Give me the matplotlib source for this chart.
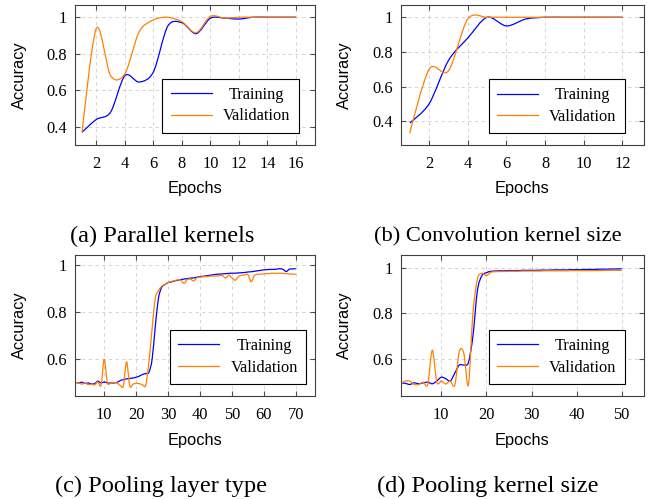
import numpy as np
import matplotlib
matplotlib.use("Agg")
import matplotlib.pyplot as plt
from matplotlib.path import Path
from matplotlib.patches import PathPatch

# (a) parallel kernels
epochs_a = list(range(1, 17))
train_a = [0.37, 0.44, 0.48, 0.68, 0.645, 0.70, 0.95, 0.97, 0.91, 0.995, 0.995, 0.99,
           1.0, 1.0, 1.0, 1.0]
val_a = [0.37, 0.94, 0.68, 0.69, 0.92, 0.985, 1.0, 0.975, 0.915, 1.005, 0.995, 1.0,
         1.0, 1.0, 1.0, 1.0]

# (b) convolution kernel size
epochs_b = list(range(1, 13))
train_b = [0.39, 0.50, 0.75, 0.88, 1.0, 0.95, 0.99, 1.0, 1.0, 1.0, 1.0, 1.0]
val_b = [0.33, 0.70, 0.69, 0.99, 1.0, 1.0, 1.0, 1.0, 1.0, 1.0, 1.0, 1.0]

# (c) pooling layer type
epochs_c = list(range(1, 71))
train_c = [0.502, 0.500, 0.503, 0.498, 0.500, 0.496, 0.497, 0.508, 0.500, 0.504,
           0.500, 0.500, 0.500, 0.502, 0.510, 0.514, 0.517, 0.519, 0.521, 0.524,
           0.529, 0.536, 0.540, 0.545, 0.600, 0.740, 0.860, 0.905, 0.917, 0.925,
           0.928, 0.932, 0.935, 0.938, 0.940, 0.942, 0.944, 0.945, 0.948, 0.950,
           0.952, 0.954, 0.956, 0.958, 0.960, 0.961, 0.962, 0.963, 0.964, 0.965,
           0.965, 0.966, 0.967, 0.968, 0.970, 0.971, 0.973, 0.975, 0.977, 0.979,
           0.980, 0.981, 0.981, 0.982, 0.984, 0.981, 0.972, 0.982, 0.983, 0.984]
val_c = [0.503, 0.500, 0.495, 0.500, 0.493, 0.495, 0.492, 0.505, 0.490, 0.600,
         0.500, 0.500, 0.502, 0.500, 0.490, 0.487, 0.590, 0.487, 0.495, 0.498,
         0.497, 0.492, 0.490, 0.590, 0.730, 0.860, 0.890, 0.910, 0.918, 0.925,
         0.930, 0.933, 0.937, 0.935, 0.922, 0.938, 0.940, 0.932, 0.945, 0.948,
         0.950, 0.951, 0.952, 0.953, 0.953, 0.954, 0.955, 0.944, 0.956, 0.945,
         0.935, 0.950, 0.956, 0.958, 0.959, 0.928, 0.955, 0.960, 0.961, 0.962,
         0.963, 0.964, 0.965, 0.964, 0.965, 0.964, 0.963, 0.962, 0.961, 0.960]

# (d) pooling kernel size
epochs_d = list(range(1, 51))
train_d = [0.497, 0.495, 0.490, 0.497, 0.493, 0.497, 0.500, 0.493, 0.505, 0.522,
           0.515, 0.505, 0.540, 0.575, 0.575, 0.585, 0.700, 0.900, 0.965, 0.978,
           0.984, 0.985, 0.986, 0.986, 0.987, 0.987, 0.987, 0.988, 0.988, 0.988,
           0.988, 0.989, 0.989, 0.989, 0.990, 0.990, 0.990, 0.990, 0.991, 0.991,
           0.991, 0.992, 0.992, 0.992, 0.993, 0.993, 0.993, 0.994, 0.994, 0.995]
val_d = [0.495, 0.505, 0.505, 0.490, 0.490, 0.500, 0.490, 0.640, 0.500, 0.505,
         0.492, 0.505, 0.487, 0.635, 0.625, 0.487, 0.800, 0.950, 0.975, 0.965,
         0.980, 0.982, 0.983, 0.983, 0.984, 0.984, 0.984, 0.985, 0.985, 0.985,
         0.985, 0.985, 0.986, 0.986, 0.986, 0.986, 0.986, 0.986, 0.987, 0.987,
         0.987, 0.987, 0.987, 0.987, 0.987, 0.988, 0.988, 0.988, 0.988, 0.988]

captions = ["(a) Parallel kernels", "(b) Convolution kernel size",
            "(c) Pooling layer type", "(d) Pooling kernel size"]

BLUE = (0, 0, 1)
ORANGE = (1, 0.5, 0)


def smooth_path(x, y, tension=0.55):
    """ Bezier path through the points, like the 'smooth' option of tikz """
    pts = np.column_stack([x, y]).astype(float)
    k = 0.2775 * tension
    n = len(pts)
    verts = [pts[0]]
    codes = [Path.MOVETO]
    for i in range(n - 1):
        p0, p1 = pts[i], pts[i + 1]
        c1 = p0 if i == 0 else p0 + k * (pts[i + 1] - pts[i - 1])
        c2 = p1 if i == n - 2 else p1 - k * (pts[i + 2] - pts[i])
        verts += [c1, c2, p1]
        codes += [Path.CURVE4] * 3
    return Path(verts, codes)


def draw_panel(ax, epochs, train, val, xlim, ylim, xticks, yticks, ytl, leg_anchor):
    """ One accuracy panel with the training and validation curve """
    for y, color, label in [(train, BLUE, "Training"), (val, ORANGE, "Validation")]:
        ax.add_patch(PathPatch(smooth_path(epochs, y), facecolor="none",
                               edgecolor=color, lw=0.9, zorder=2))
        # proxy for the legend
        ax.plot([], [], color=color, lw=0.9, label=label)

    ax.set_xlim(*xlim)
    ax.set_ylim(*ylim)
    ax.set_xticks(xticks)
    ax.set_xticklabels([str(t) for t in xticks])
    ax.set_yticks(yticks)
    ax.set_yticklabels(ytl)

    ax.set_axisbelow(True)
    ax.grid(True, color="#cccccc", linestyle=(0, (4, 4)), lw=0.6)
    ax.tick_params(direction="in", length=3.6, width=0.8, color="#4d4d4d",
                   top=True, right=True, labelsize=11.8)
    ax.tick_params(axis="x", pad=8.0)
    ax.tick_params(axis="y", pad=5.3)
    for sp in ax.spines.values():
        sp.set_color("#404040")
        sp.set_linewidth(0.8)

    ax.set_xlabel("Epochs", fontfamily="Liberation Sans", fontsize=11.8, va="center")
    ax.set_ylabel("Accuracy", fontfamily="Liberation Sans", fontsize=11.8,
                  va="center", ha="center")

    leg = ax.legend(loc="lower right", bbox_to_anchor=leg_anchor, fancybox=False,
                    edgecolor="black", framealpha=1, borderaxespad=0,
                    handlelength=2.5, handletextpad=0.7, labelspacing=0.35,
                    borderpad=0.5, fontsize=11.8)
    leg.get_frame().set_linewidth(0.8)
    return leg


def plot_all(fig_location="out.png"):
    plt.rcParams["font.family"] = ["Liberation Serif", "DejaVu Serif"]
    W, H = 648, 499
    fig = plt.figure(figsize=(W / 100, H / 100), dpi=100)

    # axes boxes in pixels: left, top, right, bottom
    boxes = [(74.5, 5, 315, 145), (400.5, 5, 644, 145),
             (74.5, 255, 315, 395.7), (400.5, 255, 644, 395.7)]
    axes = [fig.add_axes([l / W, 1 - b / H, (r - l) / W, (b - t) / H])
            for l, t, r, b in boxes]

    legs = [
        draw_panel(axes[0], epochs_a, train_a, val_a, (0.47, 17.33), (0.30, 1.067),
                   list(range(2, 17, 2)), [0.4, 0.6, 0.8, 1.0],
                   ["0.4", "0.6", "0.8", "1"], (0.932, 0.088)),
        draw_panel(axes[1], epochs_b, train_b, val_b, (0.52, 13.12), (0.262, 1.071),
                   list(range(2, 13, 2)), [0.4, 0.6, 0.8, 1.0],
                   ["0.4", "0.6", "0.8", "1"], (0.921, 0.084)),
        draw_panel(axes[2], epochs_c, train_c, val_c, (0.7, 76.0), (0.446, 1.042),
                   list(range(10, 71, 10)), [0.6, 0.8, 1.0],
                   ["0.6", "0.8", "1"], (0.963, 0.083)),
        draw_panel(axes[3], epochs_d, train_d, val_d, (0.95, 54.94), (0.441, 1.055),
                   list(range(10, 51, 10)), [0.6, 0.8, 1.0],
                   ["0.6", "0.8", "1"], (0.921, 0.083)),
    ]

    # axis label positions (pixel centres)
    for ax, (l, t, r, b), xl_y, yl_x in zip(axes, boxes, [189, 189, 441, 441],
                                            [19, 344, 19, 344]):
        ax.xaxis.set_label_coords(0.5, (b - xl_y) / (b - t))
        ax.yaxis.set_label_coords((yl_x - l) / (r - l), 0.5)

    # sub captions
    cap_pos = [(161.7, 236.7), (498.0, 236.7), (161.0, 486.7), (487.8, 486.7)]
    cap_size = [17.6, 16.2, 17.6, 17.6]
    for txt, (cx, cy), fs in zip(captions, cap_pos, cap_size):
        fig.text(cx / W, 1 - cy / H, txt, ha="center", va="center", fontsize=fs)

    # centre the shorter legend entry like pgfplots does
    fig.canvas.draw()
    renderer = fig.canvas.get_renderer()
    for leg in legs:
        w = [t.get_window_extent(renderer).width for t in leg.get_texts()]
        leg.get_texts()[0].set_position(((max(w) - w[0]) / 2, 0))

    if fig_location:
        fig.savefig(fig_location, dpi=100)
    plt.close(fig)


if __name__ == "__main__":
    plot_all("out.png")
